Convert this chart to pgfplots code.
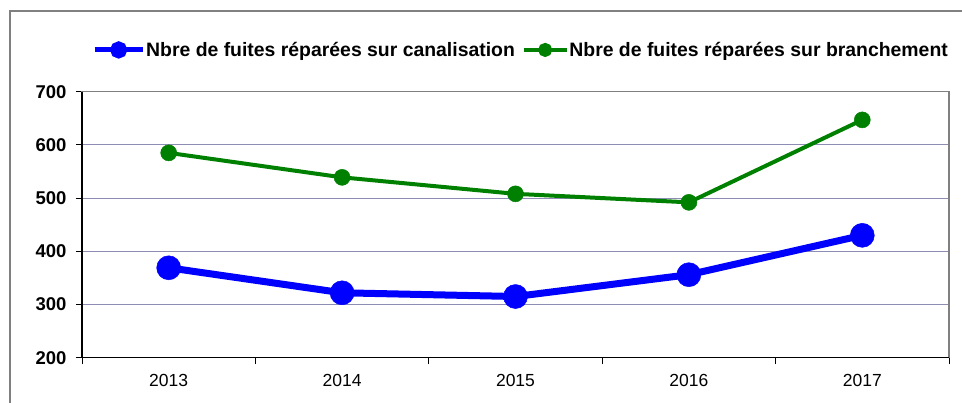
\documentclass[border=0pt]{standalone}
\usepackage{fontspec}
\setmainfont{Liberation Sans}
\usepackage{pgfplots}
\pgfplotsset{compat=1.18}
\definecolor{cblue}{RGB}{0,0,255}
\definecolor{cgreen}{RGB}{0,128,0}
\definecolor{gridc}{RGB}{140,140,180}
\definecolor{framec}{RGB}{128,128,128}
\begin{document}
\begin{tikzpicture}[x=1pt,y=1pt]
\useasboundingbox (0,0) rectangle (962,403);
\draw[framec, line width=1.5pt] (10,0) -- (10,392) -- (962,392);
\begin{axis}[
  at={(82pt,45.3pt)}, anchor=south west,
  scale only axis, width=867pt, height=266pt,
  xmin=-0.5, xmax=4.5, ymin=200, ymax=700,
  xtick={0,...,4}, xticklabels={2013,2014,2015,2016,2017},
  major x tick style={draw=none},
  minor xtick={-0.5,0.5,...,4.5},
  ytick={200,300,...,700},
  xtick pos=bottom, ytick pos=left,
  tick align=outside, major tick length=6pt, minor tick length=6pt,
  tick style={black, line width=1pt},
  ymajorgrids, grid style={gridc, line width=1pt},
  axis line style={draw=framec, line width=1.2pt},
  /pgf/number format/assume math mode=true,
  yticklabel style={font=\bfseries\fontsize{18.5}{20}\selectfont, xshift=-6pt},
  xticklabel style={font=\fontsize{17.5}{20}\selectfont, yshift=-7pt},
  legend style={at={(0.5058,1.157)}, anchor=center, draw=none, fill=none,
    legend columns=2, font=\bfseries\fontsize{19.4}{22}\selectfont,
    nodes={inner xsep=1pt},
    /tikz/every even column/.append style={column sep=6pt}},
  clip=false,
]
\addplot[cblue, line width=7pt, mark=*, mark size=12pt, mark options={solid, line width=0.5pt},
  legend image code/.code={\draw[cblue,line width=5pt] (0pt,0pt)--(48pt,0pt); \fill[cblue] (24pt,0pt) circle (5pt);}]
  coordinates {(0,369) (1,322) (2,315) (3,356) (4,430)};
\addlegendentry{Nbre de fuites réparées sur canalisation}
\addplot[cgreen, line width=4pt, mark=*, mark size=8pt, mark options={solid, line width=0.5pt},
  legend image code/.code={\draw[cgreen,line width=3.5pt] (0pt,0pt)--(43pt,0pt); \fill[cgreen] (21.5pt,0pt) circle (5pt);}]
  coordinates {(0,585) (1,539) (2,508) (3,492) (4,647)};
\addlegendentry{Nbre de fuites réparées sur branchement}
\draw[black, line width=1.5pt] (rel axis cs:0,1) -- (rel axis cs:0,0) -- (rel axis cs:1,0);
\end{axis}
\end{tikzpicture}
\end{document}
